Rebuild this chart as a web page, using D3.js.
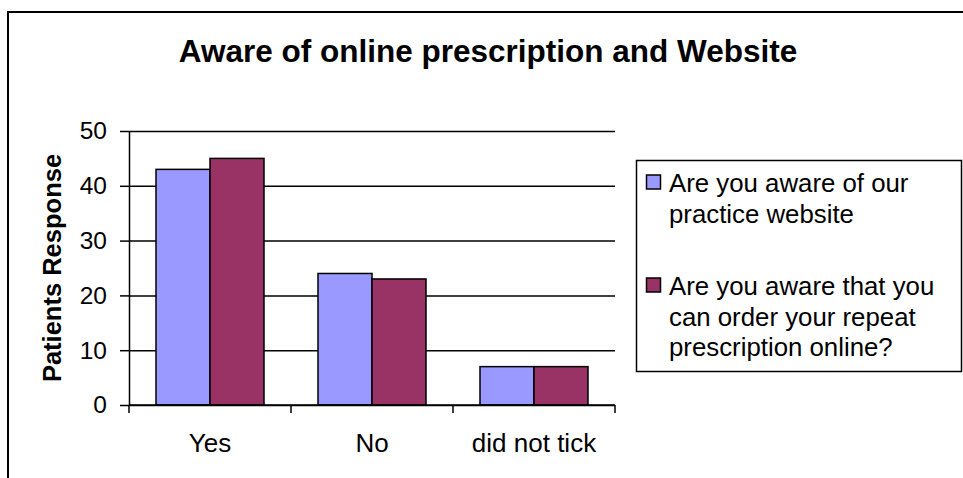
<!DOCTYPE html>
<html>
<head>
<meta charset="utf-8">
<script src="https://cdn.jsdelivr.net/npm/d3@7"></script>
<style>
  body { margin: 0; background: #fff; }
  svg { display: block; font-family: "Liberation Sans", Arial, sans-serif; }
</style>
</head>
<body>
<div id="chart"></div>
<script>
var categories = ["Yes", "No", "did not tick"];
var seriesNames = ["Are you aware of our practice website",
                   "Are you aware that you can order your repeat prescription online?"];
var websiteValues = [43, 24, 7];
var onlineValues = [45, 23, 7];
var yTicks = [0, 10, 20, 30, 40, 50];

var legendLines = [
    ["Are you aware of our", "practice website"],
    ["Are you aware that you", "can order your repeat", "prescription online?"]
];
var colors = ["#9999ff", "#993366"];

var width = 963, height = 478;
var margin = {top: 131, left: 129, right: 348, bottom: 73};
var plotW = width - margin.left - margin.right;
var plotH = height - margin.top - margin.bottom;

var svg = d3.select("#chart").append("svg")
    .attr("width", width)
    .attr("height", height);

svg.append("rect")
    .attr("x", 8).attr("y", 12)
    .attr("width", 1000).attr("height", 500)
    .attr("fill", "#fff")
    .attr("stroke", "#000").attr("stroke-width", 2);

svg.append("text")
    .attr("x", 488).attr("y", 62)
    .attr("text-anchor", "middle")
    .attr("font-weight", "bold")
    .attr("font-size", 31.5)
    .text("Aware of online prescription and Website");

var g = svg.append("g")
    .attr("transform", "translate(" + margin.left + "," + margin.top + ")");

var x = d3.scaleBand().domain(categories).range([0, plotW]);
var x1 = d3.scaleBand().domain([0, 1]).range([0, x.bandwidth()]).paddingOuter(0.5);
var y = d3.scaleLinear().domain([0, 50]).range([plotH, 0]);

// gridlines
g.append("g")
    .call(d3.axisLeft(y).tickValues(yTicks).tickSize(-plotW).tickFormat(""))
    .call(function(s) {
        s.select(".domain").remove();
        s.selectAll("line").attr("stroke", "#000").attr("stroke-width", 1.5);
    });

var data = categories.map(function(c, i) {
    return {cat: c, values: [websiteValues[i], onlineValues[i]]};
});

var groups = g.selectAll("g.cat").data(data).enter().append("g")
    .attr("class", "cat")
    .attr("transform", function(d) { return "translate(" + x(d.cat) + ",0)"; });

groups.selectAll("rect").data(function(d) { return d.values; }).enter().append("rect")
    .attr("x", function(d, i) { return x1(i); })
    .attr("y", function(d) { return y(d); })
    .attr("width", x1.bandwidth())
    .attr("height", function(d) { return plotH - y(d); })
    .attr("fill", function(d, i) { return colors[i]; })
    .attr("stroke", "#000")
    .attr("stroke-width", 1.5);

// y axis
g.append("g")
    .call(d3.axisLeft(y).tickValues(yTicks).tickSize(9).tickPadding(13).tickSizeOuter(0))
    .call(function(s) {
        s.select(".domain").attr("stroke", "#000").attr("stroke-width", 1.5);
        s.selectAll("line").attr("stroke", "#000").attr("stroke-width", 1.5);
        s.selectAll("text").attr("font-size", 24.5).attr("fill", "#000")
            .attr("font-family", "Liberation Sans, Arial, sans-serif");
    });

// x axis
var bounds = categories.map(function(c) { return x(c); }).concat([plotW]);
var xAxis = g.append("g").attr("transform", "translate(0," + plotH + ")");
xAxis.append("line")
    .attr("x1", 0).attr("x2", plotW)
    .attr("stroke", "#000").attr("stroke-width", 1.5);
xAxis.selectAll("line.tick").data(bounds).enter().append("line")
    .attr("class", "tick")
    .attr("x1", function(d) { return d; }).attr("x2", function(d) { return d; })
    .attr("y1", 0).attr("y2", 8)
    .attr("stroke", "#000").attr("stroke-width", 1.5);
xAxis.selectAll("text").data(categories).enter().append("text")
    .attr("x", function(d) { return x(d) + x.bandwidth() / 2; })
    .attr("y", 47)
    .attr("text-anchor", "middle")
    .attr("font-size", 26)
    .text(function(d) { return d; });

svg.append("text")
    .attr("transform", "translate(61," + (margin.top + plotH / 2) + ") rotate(-90)")
    .attr("text-anchor", "middle")
    .attr("font-weight", "bold")
    .attr("font-size", 25.5)
    .text("Patients Response");

// legend
var legend = svg.append("g");
legend.append("rect")
    .attr("x", 636.5).attr("y", 160.5)
    .attr("width", 325).attr("height", 211)
    .attr("fill", "#fff").attr("stroke", "#000").attr("stroke-width", 1.5);

var entryTop = [192, 295];
seriesNames.forEach(function(name, i) {
    legend.append("rect")
        .attr("x", 646.5).attr("y", entryTop[i] - 17)
        .attr("width", 14).attr("height", 14)
        .attr("fill", colors[i]).attr("stroke", "#000").attr("stroke-width", 1.5);
    var t = legend.append("text")
        .attr("x", 669).attr("y", entryTop[i])
        .attr("font-size", 25.8);
    t.selectAll("tspan").data(legendLines[i]).enter().append("tspan")
        .attr("x", 669)
        .attr("dy", function(d, j) { return j === 0 ? 0 : 30.5; })
        .text(function(d) { return d; });
    t.append("title").text(name);
});
</script>
</body>
</html>
